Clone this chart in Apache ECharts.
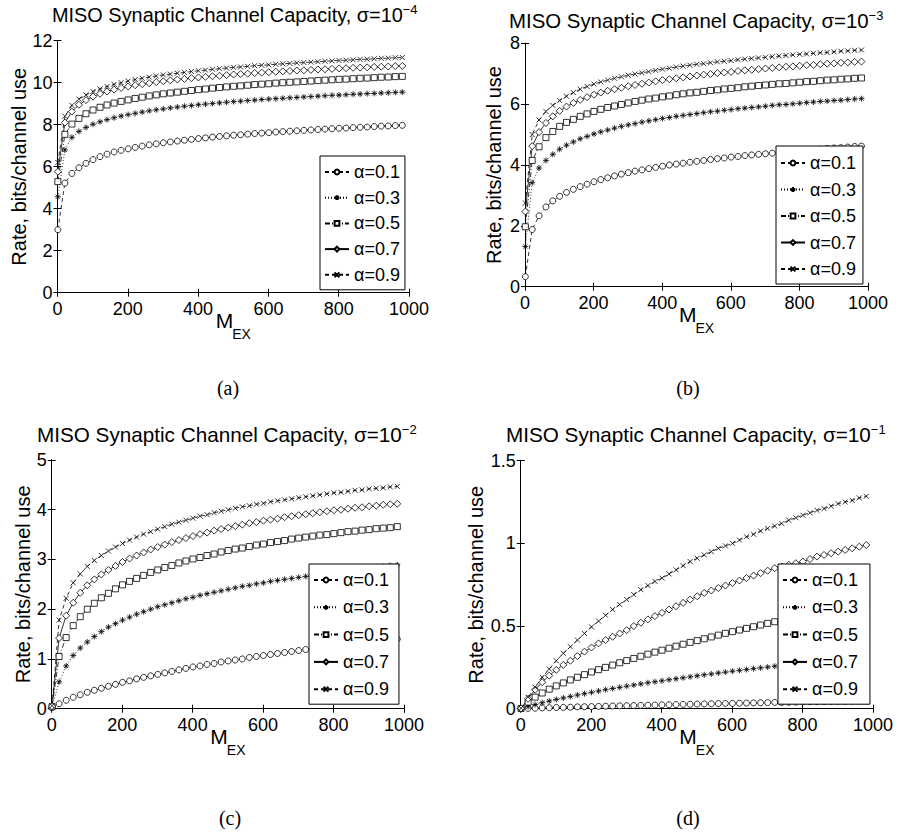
<!DOCTYPE html>
<html><head><meta charset="utf-8">
<script src="https://cdn.jsdelivr.net/npm/echarts@6.0.0/dist/echarts.min.js"></script>
<style>html,body{margin:0;padding:0;background:#fff}#c{width:899px;height:832px}</style>
</head><body><div id="c"></div>
<script>
// ---------- data ----------
const M_EX = [1,21,41,61,81,101,121,141,161,181,201,221,241,261,281,301,321,341,361,381,401,421,441,461,481,501,521,541,561,581,601,621,641,661,681,701,721,741,761,781,801,821,841,861,881,901,921,941,961,981];
const seriesNames = ['α=0.1','α=0.3','α=0.5','α=0.7','α=0.9'];
const xTicks = [0,200,400,600,800,1000];
const yMaxes = [12, 8, 5, 1.5];
const ySteps = [2, 2, 1, 0.5];
const sigmaExp = ['−4','−3','−2','−1'];
const captions = ['(a)','(b)','(c)','(d)'];

// (a) sigma = 1e-4
const a01 = [3.0,5.22,5.68,5.95,6.16,6.34,6.48,6.60,6.70,6.78,6.85,6.92,6.98,7.04,7.09,7.14,7.18,7.22,7.26,7.30,7.34,7.37,7.41,7.44,7.47,7.50,7.52,7.55,7.58,7.60,7.62,7.65,7.67,7.69,7.71,7.73,7.75,7.77,7.79,7.81,7.83,7.84,7.86,7.88,7.89,7.91,7.93,7.94,7.96,7.97];
const a03 = [4.57,6.8,7.4,7.68,7.87,8.02,8.14,8.24,8.33,8.41,8.48,8.54,8.60,8.66,8.71,8.75,8.80,8.84,8.88,8.91,8.95,8.98,9.01,9.04,9.07,9.10,9.12,9.15,9.17,9.20,9.22,9.24,9.26,9.28,9.30,9.32,9.34,9.36,9.38,9.40,9.41,9.43,9.45,9.46,9.48,9.49,9.51,9.52,9.54,9.55];
const a05 = [5.29,7.54,8.03,8.3,8.52,8.7,8.83,8.94,9.03,9.11,9.18,9.25,9.31,9.37,9.42,9.47,9.51,9.55,9.59,9.63,9.67,9.70,9.74,9.77,9.80,9.83,9.85,9.88,9.91,9.93,9.95,9.98,10.00,10.02,10.04,10.06,10.08,10.10,10.12,10.14,10.16,10.17,10.19,10.21,10.22,10.24,10.26,10.27,10.29,10.30];
const a07 = [5.76,8.1,8.62,8.95,9.17,9.34,9.47,9.58,9.67,9.75,9.82,9.88,9.93,9.98,10.03,10.07,10.11,10.15,10.18,10.22,10.25,10.28,10.31,10.33,10.36,10.39,10.41,10.43,10.46,10.48,10.50,10.52,10.54,10.56,10.58,10.59,10.61,10.63,10.64,10.66,10.68,10.69,10.71,10.72,10.73,10.75,10.76,10.77,10.79,10.80];
const a09 = [6.2,8.4,8.92,9.22,9.42,9.58,9.71,9.82,9.92,10.0,10.08,10.15,10.21,10.27,10.32,10.37,10.41,10.45,10.49,10.53,10.57,10.60,10.64,10.67,10.70,10.73,10.75,10.78,10.81,10.83,10.85,10.88,10.90,10.92,10.94,10.96,10.98,11.00,11.02,11.04,11.06,11.07,11.09,11.11,11.12,11.14,11.16,11.17,11.19,11.20];

// (b) sigma = 1e-3
const b01 = [0.33,1.88,2.33,2.62,2.82,2.97,3.1,3.2,3.29,3.37,3.45,3.52,3.58,3.64,3.70,3.75,3.80,3.84,3.88,3.92,3.96,4.00,4.03,4.06,4.09,4.12,4.15,4.18,4.21,4.23,4.26,4.28,4.31,4.33,4.35,4.37,4.39,4.41,4.43,4.45,4.47,4.49,4.51,4.52,4.54,4.56,4.57,4.59,4.61,4.62];
const b03 = [1.32,3.42,3.9,4.15,4.35,4.52,4.65,4.76,4.86,4.94,5.02,5.09,5.15,5.21,5.27,5.32,5.36,5.41,5.45,5.49,5.53,5.56,5.60,5.63,5.66,5.69,5.72,5.75,5.77,5.80,5.82,5.85,5.87,5.89,5.91,5.93,5.96,5.98,5.99,6.01,6.03,6.05,6.07,6.09,6.10,6.12,6.13,6.15,6.17,6.18];
const b05 = [1.97,4.15,4.6,4.9,5.1,5.27,5.4,5.5,5.6,5.68,5.76,5.83,5.89,5.94,5.99,6.04,6.09,6.13,6.17,6.20,6.24,6.27,6.31,6.34,6.37,6.39,6.42,6.45,6.47,6.50,6.52,6.54,6.57,6.59,6.61,6.63,6.65,6.67,6.68,6.70,6.72,6.74,6.75,6.77,6.79,6.80,6.82,6.83,6.85,6.86];
const b07 = [2.47,4.62,5.08,5.38,5.6,5.78,5.92,6.04,6.14,6.23,6.31,6.38,6.44,6.49,6.54,6.59,6.63,6.67,6.71,6.75,6.79,6.82,6.85,6.88,6.91,6.94,6.97,6.99,7.02,7.04,7.06,7.09,7.11,7.13,7.15,7.17,7.19,7.21,7.23,7.24,7.26,7.28,7.29,7.31,7.33,7.34,7.36,7.37,7.39,7.40];
const b09 = [2.75,5.0,5.48,5.76,5.96,6.12,6.26,6.38,6.49,6.58,6.66,6.73,6.79,6.85,6.90,6.95,6.99,7.03,7.07,7.11,7.15,7.18,7.22,7.25,7.28,7.31,7.33,7.36,7.39,7.41,7.43,7.46,7.48,7.50,7.52,7.54,7.56,7.58,7.60,7.62,7.64,7.65,7.67,7.69,7.70,7.72,7.74,7.75,7.77,7.78];

// (c) sigma = 1e-2
const c01 = [0.02,0.1,0.17,0.23,0.28,0.33,0.37,0.41,0.45,0.49,0.53,0.56,0.6,0.63,0.66,0.69,0.72,0.75,0.78,0.81,0.84,0.86,0.89,0.91,0.94,0.96,0.98,1.0,1.03,1.05,1.07,1.09,1.11,1.13,1.15,1.17,1.19,1.21,1.22,1.24,1.26,1.28,1.29,1.31,1.33,1.34,1.36,1.37,1.39,1.40];
const c03 = [0.03,0.54,0.86,1.07,1.22,1.34,1.45,1.55,1.64,1.71,1.78,1.84,1.9,1.95,2.0,2.05,2.09,2.13,2.17,2.21,2.24,2.28,2.31,2.34,2.37,2.4,2.43,2.46,2.48,2.51,2.53,2.56,2.58,2.6,2.62,2.64,2.66,2.68,2.7,2.72,2.74,2.76,2.78,2.79,2.81,2.83,2.84,2.86,2.88,2.89];
const c05 = [0.04,1.05,1.43,1.67,1.85,2.0,2.12,2.23,2.32,2.41,2.49,2.56,2.62,2.68,2.74,2.79,2.84,2.88,2.93,2.97,3.01,3.04,3.08,3.11,3.15,3.18,3.21,3.23,3.26,3.29,3.31,3.34,3.36,3.38,3.41,3.43,3.45,3.47,3.49,3.5,3.52,3.54,3.56,3.57,3.59,3.6,3.62,3.63,3.64,3.66];
const c07 = [0.05,1.42,1.87,2.13,2.33,2.48,2.6,2.7,2.79,2.87,2.95,3.02,3.08,3.14,3.2,3.25,3.3,3.35,3.39,3.43,3.47,3.51,3.54,3.58,3.61,3.64,3.67,3.7,3.73,3.75,3.78,3.8,3.82,3.85,3.87,3.89,3.91,3.93,3.95,3.97,3.99,4.0,4.02,4.04,4.05,4.07,4.08,4.1,4.11,4.12];
const c09 = [0.06,1.78,2.22,2.53,2.71,2.86,2.98,3.08,3.17,3.25,3.32,3.39,3.45,3.51,3.56,3.61,3.66,3.71,3.75,3.79,3.83,3.87,3.9,3.94,3.97,4.0,4.03,4.06,4.08,4.11,4.13,4.16,4.18,4.2,4.22,4.24,4.26,4.28,4.3,4.32,4.34,4.35,4.37,4.39,4.4,4.42,4.43,4.44,4.46,4.47];

// (d) sigma = 1e-1
const d01 = [0,0.002,0.003,0.005,0.006,0.007,0.008,0.009,0.011,0.012,0.013,0.014,0.015,0.016,0.017,0.018,0.019,0.02,0.021,0.022,0.023,0.024,0.025,0.026,0.027,0.028,0.029,0.03,0.031,0.032,0.032,0.033,0.034,0.035,0.036,0.037,0.038,0.038,0.039,0.04,0.041,0.042,0.042,0.043,0.044,0.045,0.045,0.046,0.047,0.048];
const d03 = [0,0.012,0.025,0.036,0.046,0.056,0.065,0.074,0.083,0.091,0.099,0.107,0.115,0.122,0.129,0.136,0.143,0.15,0.157,0.163,0.169,0.175,0.181,0.187,0.193,0.199,0.205,0.21,0.216,0.221,0.227,0.232,0.237,0.242,0.247,0.252,0.257,0.262,0.267,0.272,0.276,0.281,0.286,0.29,0.295,0.299,0.303,0.308,0.312,0.316];
const d05 = [0.001,0.04,0.07,0.095,0.118,0.138,0.156,0.174,0.19,0.206,0.222,0.236,0.25,0.264,0.278,0.291,0.304,0.317,0.33,0.342,0.354,0.366,0.378,0.39,0.401,0.412,0.423,0.434,0.445,0.456,0.466,0.476,0.486,0.496,0.506,0.516,0.526,0.536,0.545,0.554,0.563,0.572,0.581,0.59,0.599,0.608,0.616,0.624,0.632,0.64];
const d07 = [0.002,0.06,0.115,0.16,0.2,0.235,0.265,0.29,0.318,0.345,0.37,0.395,0.415,0.435,0.455,0.475,0.5,0.52,0.54,0.56,0.58,0.6,0.62,0.64,0.66,0.68,0.7,0.715,0.73,0.745,0.76,0.775,0.79,0.805,0.82,0.835,0.85,0.86,0.87,0.88,0.89,0.905,0.92,0.93,0.94,0.95,0.96,0.97,0.98,0.99];
const d09 = [0.003,0.07,0.13,0.19,0.24,0.29,0.335,0.375,0.415,0.455,0.495,0.53,0.565,0.6,0.63,0.66,0.69,0.72,0.745,0.77,0.79,0.815,0.84,0.865,0.89,0.91,0.93,0.95,0.97,0.985,1.0,1.02,1.04,1.055,1.075,1.09,1.105,1.12,1.14,1.155,1.17,1.185,1.2,1.21,1.225,1.24,1.25,1.26,1.275,1.285];

const panels = [[a01,a03,a05,a07,a09],[b01,b03,b05,b07,b09],[c01,c03,c05,c07,c09],[d01,d03,d05,d07,d09]];

// ---------- layout / style ----------
const F = "'Liberation Sans', Arial, Helvetica, sans-serif";
const grids = [
  {left:57.5, top:40.7, width:351.5, height:252},
  {left:525, top:43.3, width:343, height:243.4},
  {left:51.7, top:460, width:352.3, height:248.7},
  {left:520.7, top:460.7, width:352.3, height:248}
];
const yNameGap = [29, 21, 19, 35];
const titlePos = [[52,3],[509,8.5],[37,422.5],[506,423]];
const titleSize = [19.9, 20.4, 20.7, 20.7];
const captionPos = [[228,388],[688,388],[230,818],[688,818]];
const legendPos = [
  {left:320, top:156, gap:7.7, pt:7},
  {left:776, top:146, gap:8.5, pt:8},
  {left:309, top:564, gap:9.3, pt:7},
  {left:778, top:564, gap:9.3, pt:7}
];
const legendPR = [5, 7, 10, 12];
const XM = 'path://M0,0L10,10M10,0L0,10';
const STAR = 'path://M5,0L5,10M0,5L10,5M1.5,1.5L8.5,8.5M8.5,1.5L1.5,8.5';
const styles = [
  {symbol:'circle', size:6, type:[4,3]},
  {symbol:STAR, size:6, type:[1,2]},
  {symbol:'rect', size:6, type:[5,2,1,2]},
  {symbol:'diamond', size:7, type:'solid'},
  {symbol:XM, size:5, type:[4,3]}
];

const xAxes = [], yAxes = [], series = [], legends = [], graphics = [], titles = [];
grids.forEach((g, i) => {
  const common = {gridIndex:i, min:0, axisLine:{show:true, lineStyle:{color:'#000', width:1}},
    axisTick:{show:true, inside:true, length:4, lineStyle:{color:'#000'}}, splitLine:{show:false}};
  xAxes.push(Object.assign({}, common, {type:'value', max:xTicks[xTicks.length-1], interval:xTicks[1]-xTicks[0], position:'bottom',
    axisLabel:{fontSize:18, fontFamily:F, color:'#000', margin:7, formatter: v => String(v)}}));
  xAxes.push(Object.assign({}, common, {type:'value', max:xTicks[xTicks.length-1], interval:xTicks[1]-xTicks[0], position:'top', axisLabel:{show:false}}));
  yAxes.push(Object.assign({}, common, {type:'value', max:yMaxes[i], interval:ySteps[i], position:'left',
    axisLabel:{fontSize:18, fontFamily:F, color:'#000', margin:5, formatter: v => String(v)},
    name:'Rate, bits/channel use', nameLocation:'middle', nameGap:yNameGap[i], nameRotate:90,
    nameTextStyle:{fontSize:20, fontFamily:F, color:'#000'}}));
  yAxes.push(Object.assign({}, common, {type:'value', max:yMaxes[i], interval:ySteps[i], position:'right', axisLabel:{show:false}}));

  panels[i].forEach((vals, k) => {
    const st = styles[k];
    series.push({
      type:'line', name:seriesNames[k], xAxisIndex:2*i, yAxisIndex:2*i,
      data: M_EX.map((m, j) => [m, vals[j]]),
      symbol: st.symbol, symbolSize: st.size, showSymbol:true, showAllSymbol:true,
      lineStyle:{color:'#000', width:0.8, type:st.type},
      itemStyle:{color:'#fff', borderColor:'#000', borderWidth:0.8},
      emphasis:{disabled:true}, animation:false, z:2
    });
  });

  const lp = legendPos[i];
  legends.push({
    left:lp.left, top:lp.top, orient:'vertical', data:seriesNames,
    itemWidth:24, itemHeight:6, itemGap:lp.gap, padding:[lp.pt, legendPR[i], 6, 4],
    borderColor:'#000', borderWidth:1, backgroundColor:'#fff', selectedMode:false,
    textStyle:{fontSize:18, fontFamily:F, color:'#000'}, z:10
  });

  const tp = titlePos[i];
  titles.push({
    text:'{t|MISO Synaptic Channel Capacity, σ=10}{s|' + sigmaExp[i] + '}',
    left:tp[0], top:tp[1], padding:0, itemGap:0,
    textStyle:{fontWeight:'normal', color:'#000', rich:{
      t:{fontSize:titleSize[i], fontFamily:F, color:'#000', lineHeight:22, verticalAlign:'bottom'},
      s:{fontSize:13, fontFamily:F, color:'#000', lineHeight:13, padding:[0,0,10,0], verticalAlign:'top'}
    }}
  });
  // x-axis name  M_EX  (M with subscript EX), centred under the plot
  const cx = g.left + g.width / 2, by = g.top + g.height;
  graphics.push({type:'text', x:cx, y:by + 28, z:20, style:{text:'M', align:'right', verticalAlign:'middle', fill:'#000', fontSize:21, fontFamily:F}});
  graphics.push({type:'text', x:cx - 1, y:by + 41, z:20, style:{text:'EX', align:'left', verticalAlign:'middle', fill:'#000', fontSize:14, fontFamily:F}});
  const cp = captionPos[i];
  graphics.push({type:'text', x:cp[0], y:cp[1], z:20, style:{
    text:captions[i], align:'center', verticalAlign:'middle', fill:'#000',
    fontSize:20, fontFamily:"'Liberation Serif', 'Times New Roman', serif"}});
});

const chart = echarts.init(document.getElementById('c'), null, {renderer:'svg', width:899, height:832});
chart.setOption({
  animation:false,
  backgroundColor:'#fff',
  title: titles,
  grid: grids.map(g => Object.assign({containLabel:false}, g)),
  xAxis: xAxes, yAxis: yAxes, series: series, legend: legends, graphic: graphics
});
</script></body></html>
